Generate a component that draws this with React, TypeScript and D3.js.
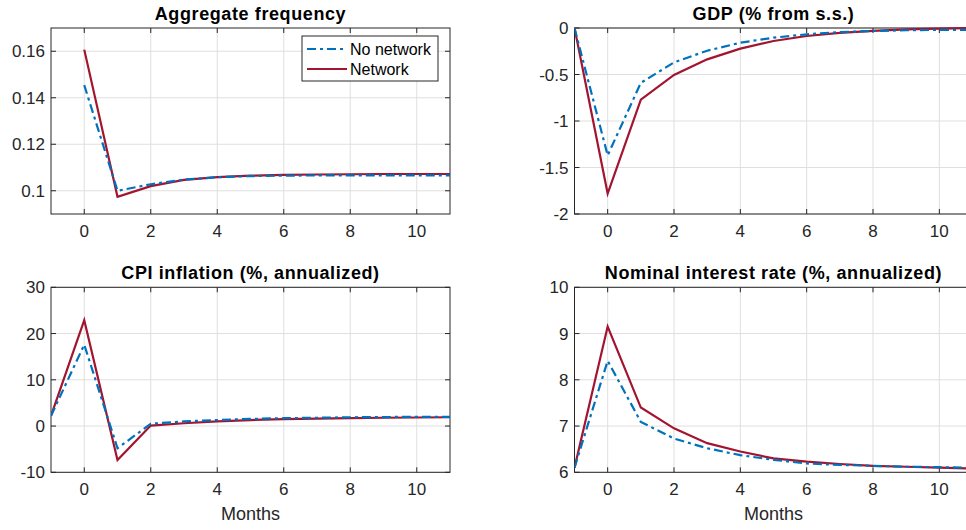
import { useEffect, useRef } from 'react';
import * as d3 from 'd3';

const months = [-1, 0, 1, 2, 3, 4, 5, 6, 7, 8, 9, 10, 11];
const freqMonths = [0, 1, 2, 3, 4, 5, 6, 7, 8, 9, 10, 11];

const freqNoNetwork = [0.1454, 0.1, 0.1028, 0.1048, 0.1058, 0.1063, 0.1065, 0.1066, 0.1066, 0.1066, 0.1066, 0.1066];
const freqNetwork = [0.1607, 0.0974, 0.102, 0.1047, 0.1059, 0.1065, 0.1068, 0.107, 0.1071, 0.1072, 0.1072, 0.1072];

const gdpNoNetwork = [0, -1.37, -0.59, -0.37, -0.244, -0.158, -0.104, -0.068, -0.045, -0.032, -0.024, -0.02, -0.02];
const gdpNetwork = [0, -1.78, -0.77, -0.505, -0.337, -0.222, -0.14, -0.086, -0.052, -0.03, -0.015, -0.006, 0];

const cpiNoNetwork = [2.2, 17.6, -4.8, 0.5, 1.0, 1.3, 1.55, 1.7, 1.8, 1.9, 1.95, 2.0, 2.0];
const cpiNetwork = [2.2, 22.9, -7.35, 0.1, 0.6, 1.0, 1.3, 1.5, 1.62, 1.72, 1.8, 1.85, 1.9];

const rateNoNetwork = [6.1, 8.41, 7.09, 6.73, 6.52, 6.37, 6.27, 6.19, 6.16, 6.14, 6.12, 6.11, 6.1];
const rateNetwork = [6.1, 9.15, 7.4, 6.95, 6.63, 6.45, 6.3, 6.23, 6.18, 6.14, 6.12, 6.1, 6.08];

const xTicks = [0, 2, 4, 6, 8, 10];
const freqTicks = [0.1, 0.12, 0.14, 0.16];
const gdpTicks = [-2, -1.5, -1, -0.5, 0];
const cpiTicks = [-10, 0, 10, 20, 30];
const rateTicks = [6, 7, 8, 9, 10];

const legendLabels = ['No network', 'Network'];

const BLUE = '#0072BD';
const RED = '#A2142F';
const AXIS = '#262626';
const FONT = '"Liberation Sans", Arial, Helvetica, sans-serif';

interface PanelSpec {
  title: string;
  left: number;
  right: number;
  top: number;
  bottom: number;
  yDomain: [number, number];
  yTicks: number[];
  yFormat: (v: number) => string;
  x: number[];
  noNetwork: number[];
  network: number[];
  xLabel?: boolean;
  legend?: boolean;
}

const panels: PanelSpec[] = [
  {
    title: 'Aggregate frequency',
    left: 51, right: 450, top: 28, bottom: 214,
    yDomain: [0.09, 0.17], yTicks: freqTicks,
    yFormat: v => (v === 0.1 ? '0.1' : d3.format('.2f')(v)),
    x: freqMonths, noNetwork: freqNoNetwork, network: freqNetwork,
    legend: true,
  },
  {
    title: 'GDP (% from s.s.)',
    left: 574.5, right: 972.5, top: 28, bottom: 214,
    yDomain: [-2, 0], yTicks: gdpTicks,
    yFormat: v => String(v),
    x: months, noNetwork: gdpNoNetwork, network: gdpNetwork,
  },
  {
    title: 'CPI inflation (%, annualized)',
    left: 51, right: 450, top: 287.3, bottom: 472.3,
    yDomain: [-10, 30], yTicks: cpiTicks,
    yFormat: v => String(v),
    x: months, noNetwork: cpiNoNetwork, network: cpiNetwork,
    xLabel: true,
  },
  {
    title: 'Nominal interest rate (%, annualized)',
    left: 574.5, right: 972.5, top: 287.3, bottom: 472.3,
    yDomain: [6, 10], yTicks: rateTicks,
    yFormat: v => String(v),
    x: months, noNetwork: rateNoNetwork, network: rateNetwork,
    xLabel: true,
  },
];

export default function App() {
  const svgRef = useRef<SVGSVGElement>(null);

  useEffect(() => {
    if (!svgRef.current) return;
    const svg = d3.select(svgRef.current);
    svg.selectAll('*').remove();

    const defs = svg.append('defs');

    panels.forEach((p, i) => {
      const x = d3.scaleLinear().domain([-1, 11]).range([p.left, p.right]);
      const y = d3.scaleLinear().domain(p.yDomain).range([p.bottom, p.top]);
      const g = svg.append('g');

      defs.append('clipPath').attr('id', `clip${i}`)
        .append('rect')
        .attr('x', p.left).attr('y', p.top - 2)
        .attr('width', p.right - p.left).attr('height', p.bottom - p.top + 4);

      // grid
      g.append('g').selectAll('line').data(xTicks).join('line')
        .attr('x1', d => x(d)).attr('x2', d => x(d))
        .attr('y1', p.top).attr('y2', p.bottom)
        .attr('stroke', '#dfdfdf').attr('stroke-width', 1);
      g.append('g').selectAll('line').data(p.yTicks).join('line')
        .attr('x1', p.left).attr('x2', p.right)
        .attr('y1', d => y(d)).attr('y2', d => y(d))
        .attr('stroke', '#dfdfdf').attr('stroke-width', 1);

      // inward ticks on all four sides
      const tl = 5;
      g.append('g').selectAll('line').data(xTicks).join('line')
        .attr('x1', d => x(d)).attr('x2', d => x(d))
        .attr('y1', p.bottom).attr('y2', p.bottom - tl)
        .attr('stroke', AXIS);
      g.append('g').selectAll('line').data(xTicks).join('line')
        .attr('x1', d => x(d)).attr('x2', d => x(d))
        .attr('y1', p.top).attr('y2', p.top + tl)
        .attr('stroke', AXIS);
      g.append('g').selectAll('line').data(p.yTicks).join('line')
        .attr('x1', p.left).attr('x2', p.left + tl)
        .attr('y1', d => y(d)).attr('y2', d => y(d))
        .attr('stroke', AXIS);
      g.append('g').selectAll('line').data(p.yTicks).join('line')
        .attr('x1', p.right).attr('x2', p.right - tl)
        .attr('y1', d => y(d)).attr('y2', d => y(d))
        .attr('stroke', AXIS);

      // box
      g.append('rect')
        .attr('x', p.left).attr('y', p.top)
        .attr('width', p.right - p.left).attr('height', p.bottom - p.top)
        .attr('fill', 'none').attr('stroke', AXIS).attr('stroke-width', 1);

      // tick labels
      g.append('g').selectAll('text').data(xTicks).join('text')
        .attr('x', d => x(d)).attr('y', p.bottom + 23)
        .attr('text-anchor', 'middle')
        .style('font-family', FONT).style('font-size', '17px').style('fill', AXIS)
        .text(d => String(d));
      g.append('g').selectAll('text').data(p.yTicks).join('text')
        .attr('x', p.left - 6).attr('y', d => y(d))
        .attr('dy', '0.36em')
        .attr('text-anchor', 'end')
        .style('font-family', FONT).style('font-size', '17px').style('fill', AXIS)
        .text(d => p.yFormat(d));

      // lines
      const line = d3.line<number>()
        .x((_, j) => x(p.x[j]))
        .y(d => y(d));
      const lg = g.append('g').attr('clip-path', `url(#clip${i})`);
      lg.append('path').datum(p.network)
        .attr('d', line)
        .attr('fill', 'none').attr('stroke', RED).attr('stroke-width', 2.2)
        .attr('stroke-linejoin', 'miter');
      lg.append('path').datum(p.noNetwork)
        .attr('d', line)
        .attr('fill', 'none').attr('stroke', BLUE).attr('stroke-width', 2.2)
        .attr('stroke-dasharray', '9,4,3,4');

      // title
      g.append('text')
        .attr('x', (p.left + p.right) / 2).attr('y', p.top - 8)
        .attr('text-anchor', 'middle')
        .style('font-family', FONT).style('font-size', '18px').style('font-weight', 'bold')
        .style('letter-spacing', '0.6px').style('fill', '#000')
        .text(p.title);

      if (p.xLabel) {
        g.append('text')
          .attr('x', (p.left + p.right) / 2).attr('y', p.bottom + 48)
          .attr('text-anchor', 'middle')
          .style('font-family', FONT).style('font-size', '18px').style('fill', AXIS)
          .text('Months');
      }

      if (p.legend) {
        const lx = 302, ly = 36, lw = 136, lh = 45;
        const leg = g.append('g');
        leg.append('rect')
          .attr('x', lx).attr('y', ly).attr('width', lw).attr('height', lh)
          .attr('fill', '#fff').attr('stroke', AXIS).attr('stroke-width', 1);
        legendLabels.forEach((label, k) => {
          const yy = ly + 13 + k * 20;
          leg.append('line')
            .attr('x1', lx + 5).attr('x2', lx + 45)
            .attr('y1', yy).attr('y2', yy)
            .attr('stroke', k === 0 ? BLUE : RED).attr('stroke-width', 2.2)
            .attr('stroke-dasharray', k === 0 ? '9,4,3,4' : null);
          leg.append('text')
            .attr('x', lx + 48).attr('y', yy).attr('dy', '0.36em')
            .style('font-family', FONT).style('font-size', '16px').style('fill', '#000')
            .text(label);
        });
      }
    });
  }, []);

  return (
    <div style={{ position: 'fixed', left: 0, top: 0, width: 966, height: 530, overflow: 'hidden', background: '#fff' }}>
      <svg ref={svgRef} width={966} height={530}></svg>
    </div>
  );
}
